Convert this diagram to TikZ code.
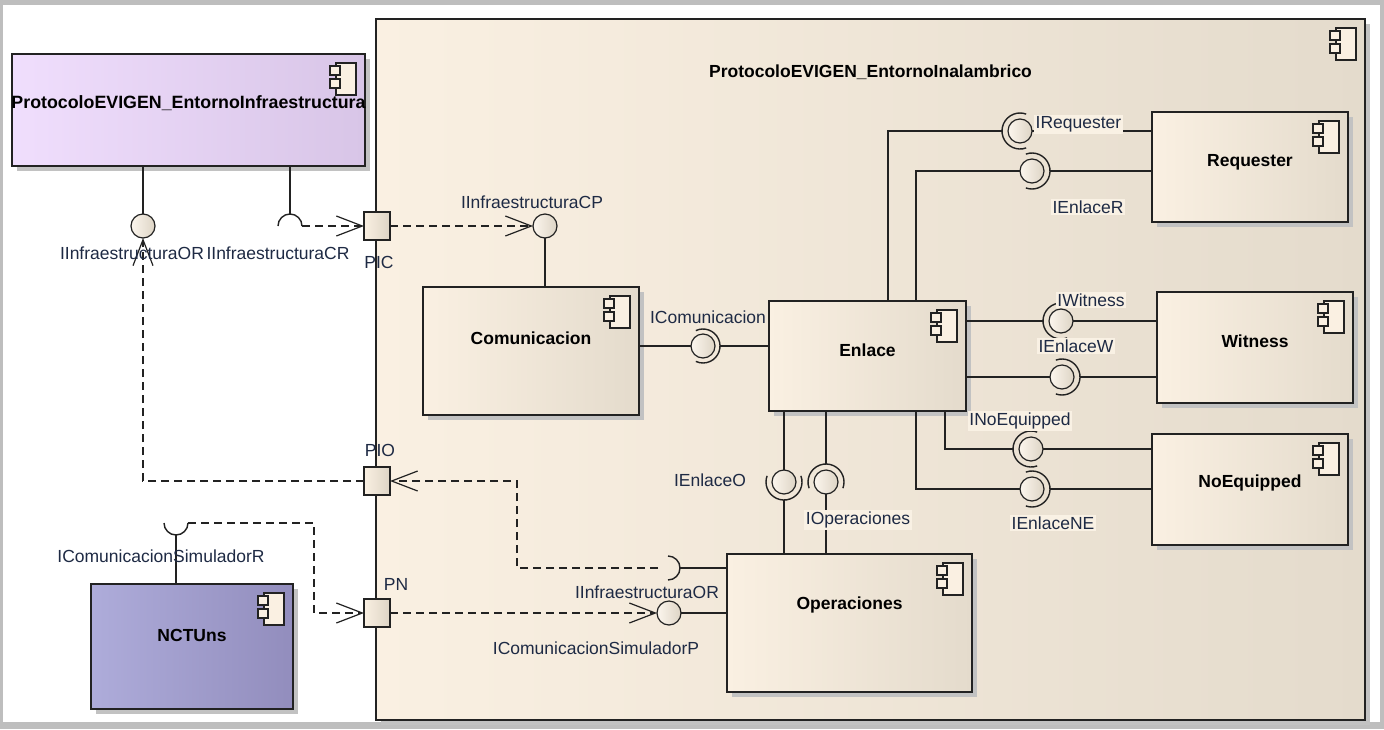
\documentclass[tikz,border=0pt]{standalone}
\usepackage{fontspec}
\setmainfont{Liberation Sans}
\usetikzlibrary{arrows.meta,calc}
\definecolor{bgc}{HTML}{FAF0E2}
\definecolor{bgr}{HTML}{E4DBCC}
\definecolor{lav}{HTML}{F0DEFD}
\definecolor{lavr}{HTML}{D8C5E7}
\definecolor{blu}{HTML}{AEACDA}
\definecolor{blur}{HTML}{928DBD}
\definecolor{shd}{HTML}{C2C2C2}
\definecolor{lnc}{HTML}{222222}
\definecolor{txc}{HTML}{1E2A44}
\definecolor{lblbg}{HTML}{F9F1E4}
\definecolor{framec}{HTML}{BEBEBE}
\definecolor{ballr}{HTML}{DDD4C5}
\tikzset{
 compbox/.style={draw=lnc, line width=1.3pt, rectangle, inner sep=0pt, outer sep=0pt},
 compname/.style={font=\fontsize{17.5}{20}\selectfont\bfseries, text=black, inner sep=1pt},
 ilabel/.style={font=\fontsize{17.5}{20}\selectfont, text=txc, inner sep=1.5pt},
 ilabelbg/.style={ilabel, fill=lblbg},
 ball/.style={circle, draw=lnc, line width=1.2pt, minimum size=24pt, inner sep=0pt, outer sep=0pt, left color=bgc!60!white, middle color=bgc, right color=ballr},
 port/.style={rectangle, draw=lnc, line width=1.2pt, minimum width=26pt, minimum height=28pt, inner sep=0pt, outer sep=0pt, left color=bgc, middle color=bgc, right color=ballr},
 conn/.style={draw=lnc, line width=1.2pt},
 dep/.style={conn, dash pattern=on 8pt off 5pt, -{Straight Barb[length=26pt,width=20pt]}},
 sock/.style={draw=lnc, line width=1.4pt},
}
\newcommand\umlicon[1]{%
 \begin{scope}[shift={#1}]
 \filldraw[fill=bgc, draw=lnc, line width=1.1pt] (-20,0) rectangle (0,32);
 \filldraw[fill=bgc, draw=lnc, line width=1.1pt] (-26,3) rectangle (-16,12);
 \filldraw[fill=bgc, draw=lnc, line width=1.1pt] (-26,16) rectangle (-16,25);
 \end{scope}}
% name, x1, y1, x2, y2, left color, right color, text, text offset
\newcommand\umlcomp[9]{%
 \fill[shd] (#2+5,#3+5) rectangle (#4+5,#5+5);
 \node[compbox, left color=#6, middle color=#6, right color=#7, minimum width={#4-#2}, minimum height={#5-#3}, anchor=north west] (#1) at (#2,#3) {};
 \umlicon{(#4-9,#3+9)}
 \node[compname] (#1t) at ($(#1.north)+(0,#9)$) {#8};
}
\begin{document}
\begin{tikzpicture}[x=1pt,y=-1pt]
\useasboundingbox (0,0) rectangle (1384,729);
\fill[framec] (0,0) rectangle (1384,729);
\fill[white] (3,5) rectangle (1380,722);

% outer component
\umlcomp{outer}{376}{19}{1365}{720}{bgc}{bgr}{ProtocoloEVIGEN\_EntornoInalambrico}{53}
% left components
\umlcomp{infra}{12}{54}{365}{166}{lav}{lavr}{\fontsize{17.8}{20}\selectfont ProtocoloEVIGEN\_EntornoInfraestructura}{49}
\umlcomp{ncts}{91}{584}{293}{709}{blu}{blur}{NCTUns}{51}
% inner components
\umlcomp{comu}{423}{287}{639}{415}{bgc}{bgr}{Comunicacion}{51}
\umlcomp{enlace}{769}{301}{966}{411}{bgc}{bgr}{Enlace}{49}
\umlcomp{req}{1152}{112}{1348}{222}{bgc}{bgr}{Requester}{50}
\umlcomp{wit}{1157}{292}{1353}{403}{bgc}{bgr}{Witness}{49}
\umlcomp{noeq}{1152}{434}{1348}{545}{bgc}{bgr}{NoEquipped}{49}
\umlcomp{oper}{727}{554}{972}{692}{bgc}{bgr}{Operaciones}{51}

% ports
\node[port] (pic) at (377,226) {};
\node[port] (pio) at (377,481) {};
\node[port] (pn) at (377,613) {};

% balls
\node[ball] (lor) at (143,226) {};
\node[ball] (icp) at (545,226) {};
\node[ball] (icom) at (703,346) {};
\node[ball] (ireq) at (1020,131) {};
\node[ball] (ienr) at (1032,171) {};
\node[ball] (iwit) at (1061,321) {};
\node[ball] (ienw) at (1062,377) {};
\node[ball] (inoe) at (1031,449) {};
\node[ball] (ienne) at (1032,489) {};
\node[ball] (ieno) at (784,482) {};
\node[ball] (iop) at (826,482) {};
\node[ball] (icsp) at (669,613) {};
\coordinate (lcr) at (290,226);
\coordinate (ior2) at (668,568);
\coordinate (icsr) at (176,523);

% left component interfaces
\draw[conn] (lor.north |- infra.south) -- (lor.north);
\draw[conn] (lcr |- infra.south) -- ($(lcr)+(0,-12)$);
\draw[sock] ($(lcr)+(-12,0)$) arc[start angle=180,end angle=360,radius=12];
\draw[dep] ($(lcr)+(12,0)$) -- (pic.west);
\draw[dep] (pic.east) -- (icp.west);
\draw[conn] (icp.south) -- (icp.south |- comu.north);

% IComunicacion
\draw[conn] (comu.east |- icom) -- (icom.west);
\draw[sock] ($(icom)+(-115:17)$) arc[start angle=-115,end angle=115,radius=17];
\draw[conn] ($(icom)+(17,0)$) -- (enlace.west |- icom);

% IRequester
\draw[conn] ([xshift=119pt]enlace.north west) |- ($(ireq)+(-18,0)$);
\draw[sock] ($(ireq)+(70:18)$) arc[start angle=70,end angle=290,radius=18];
\draw[conn] (ireq.east) -- (req.west |- ireq);
% IEnlaceR
\draw[conn] ([xshift=147pt]enlace.north west) |- (ienr.west);
\draw[sock] ($(ienr)+(-110:18)$) arc[start angle=-110,end angle=110,radius=18];
\draw[conn] ($(ienr)+(18,0)$) -- (req.west |- ienr);
% IWitness
\draw[conn] (enlace.east |- iwit) -- ($(iwit)+(-18,0)$);
\draw[sock] ($(iwit)+(70:18)$) arc[start angle=70,end angle=290,radius=18];
\draw[conn] (iwit.east) -- (wit.west |- iwit);
% IEnlaceW
\draw[conn] (enlace.east |- ienw) -- (ienw.west);
\draw[sock] ($(ienw)+(-110:18)$) arc[start angle=-110,end angle=110,radius=18];
\draw[conn] ($(ienw)+(18,0)$) -- (wit.west |- ienw);
% INoEquipped
\draw[conn] ([xshift=176pt]enlace.south west) |- ($(inoe)+(-18,0)$);
\draw[sock] ($(inoe)+(70:18)$) arc[start angle=70,end angle=290,radius=18];
\draw[conn] (inoe.east) -- (noeq.west |- inoe);
% IEnlaceNE
\draw[conn] ([xshift=147pt]enlace.south west) |- (ienne.west);
\draw[sock] ($(ienne)+(-110:18)$) arc[start angle=-110,end angle=110,radius=18];
\draw[conn] ($(ienne)+(18,0)$) -- (noeq.west |- ienne);
% IEnlaceO
\draw[conn] ([xshift=15pt]enlace.south west) -- (ieno.north);
\draw[sock] ($(ieno)+(-20:18)$) arc[start angle=-20,end angle=200,radius=18];
\draw[conn] ($(ieno)+(0,18)$) -- (ieno |- oper.north);
% IOperaciones
\draw[conn] ([xshift=57pt]enlace.south west) -- ($(iop)+(0,-18)$);
\draw[sock] ($(iop)+(160:18)$) arc[start angle=160,end angle=380,radius=18];
\draw[conn] (iop.south) -- (iop |- oper.north);

% IInfraestructuraOR (Operaciones)
\draw[conn] ($(ior2)+(12,0)$) -- (oper.west |- ior2);
\draw[sock] ($(ior2)+(0,-12)$) arc[start angle=-90,end angle=90,radius=12];
\draw[dep] ($(ior2)+(-10,0)$) -| ($(pio.east)+(127,0)$) -- (pio.east);
% IComunicacionSimuladorP
\draw[conn] (icsp.east) -- (oper.west |- icsp);
\draw[dep] (pn.east) -- (icsp.west);
% PIO to IInfraestructuraOR
\draw[dep] (pio.west) -| (lor.south);
% NCTUns
\draw[conn] (icsr |- ncts.north) -- ($(icsr)+(0,12)$);
\draw[sock] ($(icsr)+(12,0)$) arc[start angle=0,end angle=180,radius=12];
\draw[dep] ($(icsr)+(12,0)$) -- ++(126,0) |- (pn.west);

% labels
\node[ilabel] (picl) at (379,262) {PIC};
\node[ilabel] (piol) at (380,450) {PIO};
\node[ilabel] (pnl) at (396,584) {PN};
\node[ilabel] (lorl) at (132,253) {IInfraestructuraOR};
\node[ilabel] (lcrl) at (278,253) {IInfraestructuraCR};
\node[ilabel] (icpl) at (532,202) {IInfraestructuraCP};
\node[ilabel] (icoml) at (708,317) {IComunicacion};
\node[ilabelbg, anchor=south west] (ireql) at (1034,134) {IRequester};
\node[ilabelbg] (ienrl) at (1088,207) {IEnlaceR};
\node[ilabelbg] (iwitl) at (1091,300) {IWitness};
\node[ilabelbg] (ienwl) at (1076,346) {IEnlaceW};
\node[ilabelbg] (inoel) at (1020,421) {INoEquipped};
\node[ilabelbg] (iennel) at (1053,523) {IEnlaceNE};
\node[ilabel] (ienol) at (710,480) {IEnlaceO};
\node[ilabelbg] (iopl) at (858,520) {IOperaciones};
\node[ilabel] (ior2l) at (647,592) {IInfraestructuraOR};
\node[ilabel] (icspl) at (596,648) {IComunicacionSimuladorP};
\node[ilabel] (icsrl) at (161,556) {IComunicacionSimuladorR};
\end{tikzpicture}
\end{document}
